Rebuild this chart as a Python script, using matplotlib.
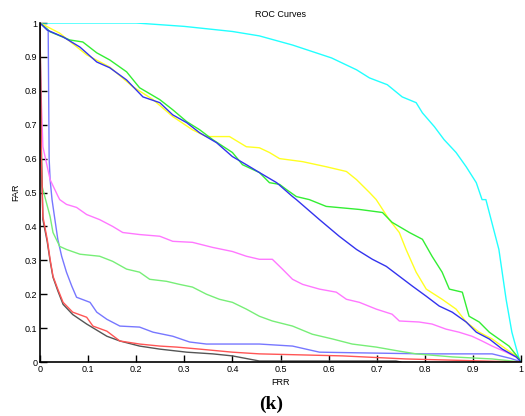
import matplotlib
matplotlib.use("Agg")
import matplotlib.pyplot as plt

# ROC curves, one FRR/FAR list per classifier
cyan_frr = [0, 0.2, 0.3, 0.4, 0.456, 0.525, 0.606, 0.658, 0.685, 0.722, 0.753, 0.782, 0.795, 0.82, 0.84,
            0.865, 0.886, 0.907, 0.919, 0.927, 0.954, 0.969, 0.981, 0.996, 1.0]
cyan_far = [1, 1, 0.99, 0.975, 0.962, 0.935, 0.897, 0.862, 0.838, 0.818, 0.782, 0.765, 0.735, 0.694, 0.656,
            0.618, 0.576, 0.529, 0.479, 0.479, 0.332, 0.185, 0.088, 0.01, 0]

yellow_frr = [0, 0.041, 0.097, 0.145, 0.193, 0.235, 0.276, 0.317, 0.346, 0.394, 0.429, 0.456, 0.477, 0.498,
              0.546, 0.595, 0.637, 0.658, 0.685, 0.699, 0.726, 0.747, 0.761, 0.782, 0.803, 0.836, 0.865,
              0.886, 0.913, 0.94, 0.969, 0.99, 1.0]
yellow_far = [1, 0.97, 0.906, 0.87, 0.812, 0.774, 0.724, 0.685, 0.665, 0.665, 0.635, 0.632, 0.618, 0.6,
              0.591, 0.576, 0.562, 0.538, 0.5, 0.479, 0.42, 0.382, 0.332, 0.265, 0.215, 0.185, 0.156,
              0.118, 0.088, 0.068, 0.038, 0.018, 0]

green_frr = [0, 0.021, 0.062, 0.089, 0.118, 0.145, 0.18, 0.207, 0.249, 0.276, 0.305, 0.332, 0.359, 0.4,
             0.421, 0.456, 0.477, 0.498, 0.512, 0.533, 0.56, 0.595, 0.664, 0.712, 0.732, 0.768, 0.795,
             0.815, 0.836, 0.851, 0.878, 0.892, 0.913, 0.934, 0.954, 0.975, 0.996, 1.0]
green_far = [1, 0.974, 0.95, 0.944, 0.912, 0.891, 0.856, 0.809, 0.774, 0.744, 0.709, 0.685, 0.656, 0.618,
             0.582, 0.559, 0.529, 0.524, 0.509, 0.488, 0.479, 0.459, 0.45, 0.441, 0.412, 0.382, 0.362,
             0.312, 0.265, 0.215, 0.206, 0.135, 0.118, 0.088, 0.068, 0.047, 0.01, 0]

blue_frr = [0, 0.015, 0.048, 0.083, 0.118, 0.145, 0.18, 0.214, 0.249, 0.276, 0.305, 0.332, 0.367, 0.4,
            0.429, 0.456, 0.492, 0.525, 0.533, 0.581, 0.622, 0.658, 0.691, 0.72, 0.747, 0.774, 0.803,
            0.83, 0.857, 0.886, 0.907, 0.934, 0.961, 0.99, 1.0]
blue_far = [1, 0.979, 0.959, 0.929, 0.885, 0.868, 0.832, 0.782, 0.765, 0.729, 0.706, 0.676, 0.647, 0.606,
            0.582, 0.559, 0.529, 0.488, 0.479, 0.42, 0.371, 0.332, 0.303, 0.282, 0.253, 0.224, 0.194,
            0.165, 0.147, 0.118, 0.088, 0.068, 0.038, 0.015, 0]

magenta_frr = [0, 0.002, 0.006, 0.021, 0.037, 0.041, 0.055, 0.076, 0.097, 0.124, 0.151, 0.172, 0.207,
               0.249, 0.276, 0.317, 0.359, 0.4, 0.429, 0.456, 0.483, 0.504, 0.525, 0.546, 0.581, 0.616,
               0.637, 0.664, 0.699, 0.732, 0.747, 0.788, 0.815, 0.844, 0.871, 0.898, 0.919, 0.94, 0.969,
               0.996, 1.0]
magenta_far = [0.93, 0.8, 0.635, 0.538, 0.49, 0.479, 0.465, 0.456, 0.435, 0.42, 0.4, 0.382, 0.376,
               0.371, 0.356, 0.353, 0.338, 0.326, 0.312, 0.303, 0.303, 0.274, 0.244, 0.229, 0.215, 0.206,
               0.185, 0.176, 0.156, 0.141, 0.121, 0.118, 0.112, 0.097, 0.088, 0.076, 0.062, 0.047, 0.029,
               0.01, 0]

lgreen_frr = [0, 0.004, 0.021, 0.027, 0.041, 0.055, 0.083, 0.124, 0.151, 0.18, 0.207, 0.228, 0.263, 0.29,
              0.317, 0.346, 0.373, 0.4, 0.429, 0.456, 0.483, 0.525, 0.566, 0.608, 0.649, 0.699, 0.747,
              0.782, 0.857, 0.94, 1.0]
lgreen_far = [0.9, 0.52, 0.429, 0.382, 0.341, 0.332, 0.318, 0.312, 0.297, 0.274, 0.265, 0.244, 0.238,
              0.229, 0.221, 0.2, 0.185, 0.176, 0.156, 0.135, 0.121, 0.106, 0.082, 0.068, 0.053, 0.044,
              0.032, 0.024, 0.015, 0.009, 0]

lblue_frr = [0, 0.017, 0.019, 0.021, 0.025, 0.031, 0.037, 0.045, 0.055, 0.066, 0.076, 0.104, 0.118, 0.139,
             0.166, 0.207, 0.235, 0.276, 0.311, 0.346, 0.456, 0.525, 0.581, 0.664, 0.8, 0.94, 0.98, 1.0]
lblue_far = [1, 0.98, 0.6, 0.538, 0.479, 0.42, 0.362, 0.312, 0.265, 0.224, 0.191, 0.176, 0.147, 0.126,
             0.106, 0.103, 0.088, 0.076, 0.059, 0.053, 0.053, 0.047, 0.029, 0.027, 0.024, 0.024, 0.01, 0]

red_frr = [0, 0.003, 0.006, 0.015, 0.021, 0.027, 0.037, 0.048, 0.068, 0.097, 0.11, 0.139, 0.166, 0.207,
           0.249, 0.284, 0.332, 0.4, 0.456, 0.629, 0.761, 1.0]
red_far = [1, 0.6, 0.429, 0.362, 0.303, 0.253, 0.215, 0.176, 0.147, 0.132, 0.106, 0.091, 0.062, 0.053,
           0.047, 0.044, 0.038, 0.029, 0.024, 0.018, 0.009, 0]

gray_frr = [0, 0.003, 0.006, 0.015, 0.021, 0.027, 0.037, 0.048, 0.068, 0.097, 0.139, 0.166, 0.207, 0.249,
            0.305, 0.359, 0.4, 0.456, 0.74, 0.75]
gray_far = [1, 0.6, 0.42, 0.355, 0.298, 0.25, 0.21, 0.17, 0.14, 0.112, 0.076, 0.062, 0.047, 0.038, 0.029,
            0.024, 0.018, 0.003, 0.003, 0]

curves = [
    (cyan_frr, cyan_far, "#22ffff"),
    (lblue_frr, lblue_far, "#7777ff"),
    (lgreen_frr, lgreen_far, "#77ee77"),
    (magenta_frr, magenta_far, "#ff77ff"),
    (gray_frr, gray_far, "#555555"),
    (red_frr, red_far, "#ff5555"),
    (yellow_frr, yellow_far, "#ffff22"),
    (green_frr, green_far, "#33ee33"),
    (blue_frr, blue_far, "#3333ee"),
]

plt.rcParams["font.family"] = ["Liberation Sans", "DejaVu Sans"]

fig = plt.figure(figsize=(5.25, 4.16), dpi=100)
ax = fig.add_axes([0.0762, 0.1298, 0.9162, 0.8149])

for x, y, c in curves:
    ax.plot(x, y, color=c, lw=1.0)

ax.set_xlim(0, 1)
ax.set_ylim(0, 1)
ticks = [0, 0.1, 0.2, 0.3, 0.4, 0.5, 0.6, 0.7, 0.8, 0.9, 1]
tick_labels = ["0", "0.1", "0.2", "0.3", "0.4", "0.5", "0.6", "0.7", "0.8", "0.9", "1"]
ax.set_xticks(ticks)
ax.set_xticklabels(tick_labels)
ax.set_yticks(ticks)
ax.set_yticklabels(tick_labels)
ax.tick_params(direction="in", length=5, width=1, labelsize=6.5, pad=2, color="black")
ax.spines["top"].set_visible(False)
ax.spines["right"].set_visible(False)
ax.spines["left"].set_linewidth(1.2)
ax.spines["bottom"].set_linewidth(1.2)

ax.set_title("ROC Curves", fontsize=6.5, pad=4)
ax.set_xlabel("FRR", fontsize=6.5, labelpad=3)
ax.set_ylabel("FAR", fontsize=6.5, labelpad=3)

fig.text(0.516, 0.028, "(k)", family=["Liberation Serif", "DejaVu Serif"], fontsize=14,
         fontweight="bold", ha="center", va="center")

fig.savefig("out.png", dpi=100)
